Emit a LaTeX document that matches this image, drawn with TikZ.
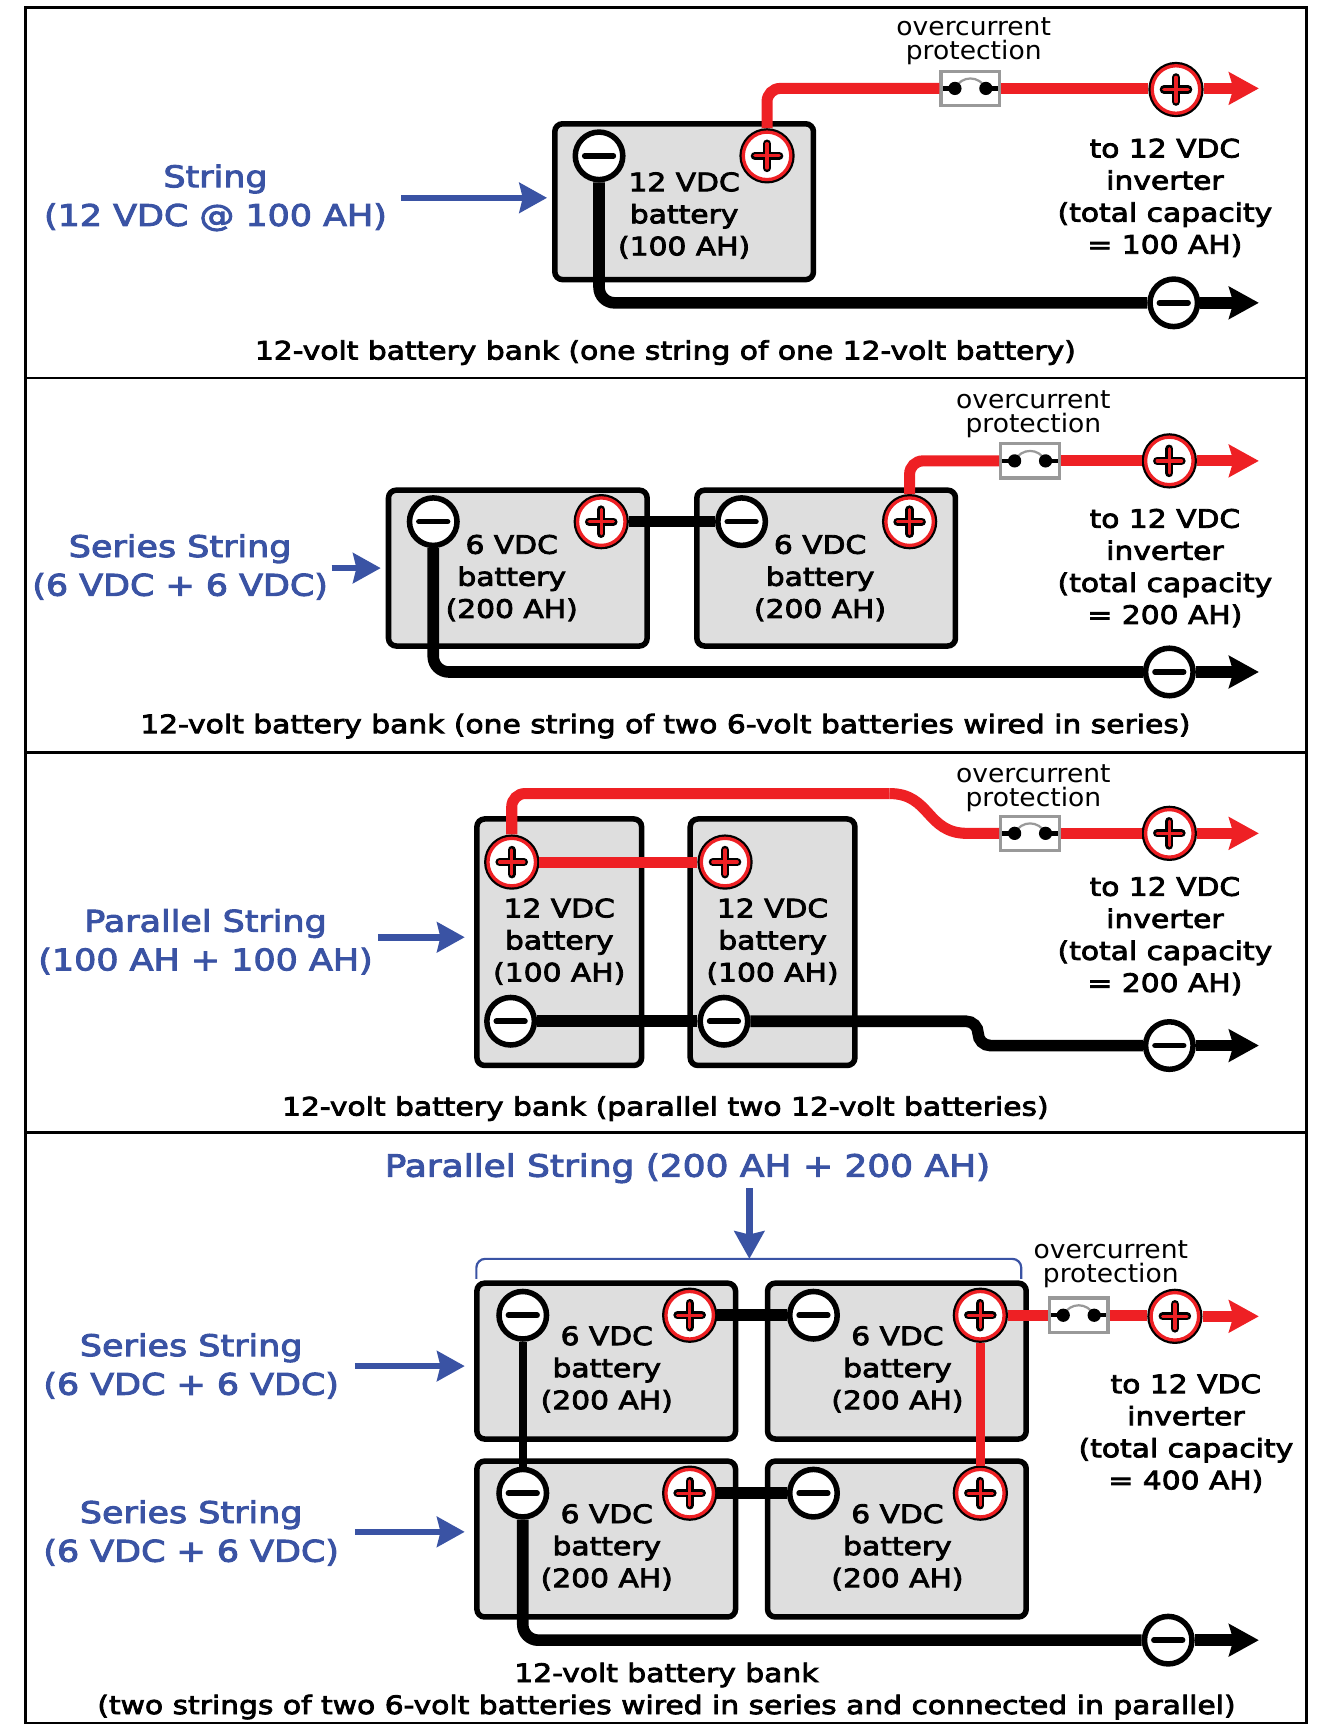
\documentclass[tikz,border=0pt]{standalone}
\usepackage{xcolor}
\usepackage{fontspec}
\setmainfont{DejaVu Sans}
\newfontfamily\medfont[FakeBold=3.2,FakeStretch=1.17]{DejaVu Sans}
\newfontfamily\thinfont[FakeStretch=1.045]{DejaVu Sans}
\usetikzlibrary{arrows.meta}
\definecolor{wirered}{HTML}{EE2024}
\definecolor{labelblue}{HTML}{3A53A4}
\definecolor{battgray}{HTML}{DEDEDE}
\definecolor{fusegray}{HTML}{999999}
\tikzset{
  panel node/.style={draw,line width=2.5pt,minimum width=1159pt,inner sep=0pt},
  batt node/.style={draw,line width=5pt,fill=battgray,rounded corners=7pt,inner sep=0pt,outer sep=0pt},
  wide batt/.style={batt node,minimum width=234pt,minimum height=141pt},
  tall batt/.style={batt node,minimum width=149pt,minimum height=223pt},
  minus node/.style={circle,draw,line width=5pt,fill=white,minimum size=43pt,inner sep=0pt,
    path picture={\draw[black,line width=5pt,line cap=round] ([xshift=-13pt]path picture bounding box.center) -- ([xshift=13pt]path picture bounding box.center);}},
  plus node/.style={circle,draw=wirered,line width=3pt,fill=white,minimum size=43pt,inner sep=0pt,outer sep=3.5pt,
    preaction={draw=black,line width=7pt},
    path picture={
      \draw[black,line width=7.5pt,line cap=round] ([xshift=-11pt]path picture bounding box.center) -- ([xshift=11pt]path picture bounding box.center)
        ([yshift=-11pt]path picture bounding box.center) -- ([yshift=11pt]path picture bounding box.center);
      \draw[wirered,line width=3pt,line cap=round] ([xshift=-11pt]path picture bounding box.center) -- ([xshift=11pt]path picture bounding box.center)
        ([yshift=-11pt]path picture bounding box.center) -- ([yshift=11pt]path picture bounding box.center);}},
  fuse node/.style={draw=fusegray,line width=3pt,fill=white,minimum width=53pt,minimum height=31pt,inner sep=0pt,
    path picture={
      \draw[fusegray,line width=2pt] ([xshift=-14pt]path picture bounding box.center) .. controls ([xshift=-8pt,yshift=12pt]path picture bounding box.center) and ([xshift=8pt,yshift=12pt]path picture bounding box.center) .. ([xshift=14pt]path picture bounding box.center);
      \fill[black] ([xshift=-14pt]path picture bounding box.center) circle (6pt);
      \fill[black] ([xshift=14pt]path picture bounding box.center) circle (6pt);
      \draw[black,line width=4pt] ([xshift=-27pt]path picture bounding box.center) -- ([xshift=-14pt]path picture bounding box.center)
        ([xshift=14pt]path picture bounding box.center) -- ([xshift=27pt]path picture bounding box.center);}},
  batt text/.style={align=center,inner sep=0pt,font=\medfont\fontsize{23}{29}\selectfont},
  blue text/.style={align=center,inner sep=0pt,text=labelblue,font=\medfont\fontsize{27}{35}\selectfont},
  fuse text/.style={align=center,inner sep=0pt,font=\thinfont\fontsize{23}{22}\selectfont},
  red wire/.style={draw=wirered,line width=10pt},
  black wire/.style={draw=black,line width=10.5pt},
  tip wire/.style={-{Stealth[length=27pt,width=29pt,inset=4pt]}},
  blue arrow/.style={draw=labelblue,line width=6pt,-{Stealth[length=25pt,width=27pt,inset=3pt]}}
}
\begin{document}
\begin{tikzpicture}[x=1pt,y=-1pt]
    \useasboundingbox (0,0) rectangle (1198,1568);
    % panels
    \node[panel node,minimum height=335pt] (p1) at (602.5,174.5) {};
    \node[panel node,minimum height=339pt] (p2) at (602.5,511.5) {};
    \node[panel node,minimum height=344pt] (p3) at (602.5,853) {};
    \node[panel node,minimum height=534pt] (p4) at (602.5,1292) {};

    % one 12 volt battery
    \node[wide batt] (b1) at (619,182.5) {};
    \node[batt text] (t1) at (619,195) {12 VDC\\battery\\(100 AH)};
    \node[minus node] (m1) at (542,141) {};
    \node[plus node] (q1) at (694,141) {};
    \node[fuse node] (f1) at (878,80) {};
    \node[fuse text] (o1) at (881,37) {overcurrent\\protection};
    \node[plus node] (qo1) at (1064,81) {};
    \node[minus node] (mo1) at (1062,274) {};
    \coordinate (r1) at (1139,80);
    \coordinate (k1) at (1139,274);
    \node[batt text] (i1) at (1054,179) {to 12 VDC\\inverter\\(total capacity\\= 100 AH)};
    \node[blue text] (s1) at (195,179) {String\\(12 VDC @ 100 AH)};
    \coordinate (a1) at (363,179);
    \node[batt text] (c1) at (602,319) {12-volt battery bank (one string of one 12-volt battery)};

    \draw[red wire,rounded corners=12pt] (q1.north) |- (f1.west);
    \draw[red wire] (f1.east) -- (f1.east -| qo1.west);
    \draw[red wire,tip wire] (f1.east -| qo1.east) -- (r1);
    \draw[black wire,rounded corners=14pt] (m1.south) |- (mo1.west);
    \draw[black wire,tip wire] (mo1.east) -- (k1);
    \draw[blue arrow,shorten >=7pt] (a1) -- (a1 -| b1.west);

    % two 6 volt batteries in series
    \node[wide batt] (b2) at (468.5,514) {};
    \node[wide batt] (b3) at (747.5,514) {};
    \node[batt text] (t2) at (463,523) {6 VDC\\battery\\(200 AH)};
    \node[batt text] (t3) at (742,523) {6 VDC\\battery\\(200 AH)};
    \node[minus node] (m2) at (392,472) {};
    \node[plus node] (q2) at (544,472) {};
    \node[minus node] (m3) at (671,472) {};
    \node[plus node] (q3) at (823,472) {};
    \node[fuse node] (f2) at (932,417) {};
    \node[fuse text] (o2) at (935,375) {overcurrent\\protection};
    \node[plus node] (qo2) at (1058,417) {};
    \node[minus node] (mo2) at (1058,608) {};
    \coordinate (r2) at (1139,417);
    \coordinate (k2) at (1139,608);
    \node[batt text] (i2) at (1054,514) {to 12 VDC\\inverter\\(total capacity\\= 200 AH)};
    \node[blue text] (s2) at (163,513) {Series String\\(6 VDC + 6 VDC)};
    \coordinate (a2) at (300,514);
    \node[batt text] (c2) at (602,657) {12-volt battery bank (one string of two 6-volt batteries wired in series)};

    \draw[black wire] (q2.east) -- (m3.west);
    \draw[red wire,rounded corners=12pt] (q3.north) |- (f2.west);
    \draw[red wire] (f2.east) -- (qo2.west);
    \draw[red wire,tip wire] (qo2.east) -- (r2);
    \draw[black wire,rounded corners=14pt] (m2.south) |- (mo2.west);
    \draw[black wire,tip wire] (mo2.east) -- (k2);
    \draw[blue arrow,shorten >=7pt] (a2) -- (a2 -| b2.west);

    % two 12 volt batteries in parallel
    \node[tall batt] (b4) at (506,852.5) {};
    \node[tall batt] (b5) at (699,852.5) {};
    \node[batt text] (t4) at (506,852) {12 VDC\\battery\\(100 AH)};
    \node[batt text] (t5) at (699,852) {12 VDC\\battery\\(100 AH)};
    \node[plus node] (q4) at (463,780) {};
    \node[plus node] (q5) at (656,780) {};
    \node[minus node] (m4) at (462,924) {};
    \node[minus node] (m5) at (655,924) {};
    \node[fuse node] (f3) at (932,754) {};
    \node[fuse text] (o3) at (935,713) {overcurrent\\protection};
    \node[plus node] (qo3) at (1058,754) {};
    \node[minus node] (mo3) at (1058,946) {};
    \coordinate (r3) at (1139,754);
    \coordinate (k3) at (1139,946);
    \node[batt text] (i3) at (1054,847) {to 12 VDC\\inverter\\(total capacity\\= 200 AH)};
    \node[blue text] (s3) at (186,852) {Parallel String\\(100 AH + 100 AH)};
    \coordinate (a3) at (342,848);
    \node[batt text] (c3) at (602,1003) {12-volt battery bank (parallel two 12-volt batteries)};
    \coordinate (u3) at (805,718);
    \coordinate (v3) at (875,754);

    \draw[red wire] (q4.east) -- (q5.west);
    \draw[red wire,rounded corners=12pt] (q4.north) -- (q4 |- u3) -- (u3);
    \draw[red wire] (u3) .. controls (842,718) and (838,754) .. (v3) -- (f3.west);
    \draw[red wire] (f3.east) -- (qo3.west);
    \draw[red wire,tip wire] (qo3.east) -- (r3);
    \draw[black wire] (m4.east) -- (m5.west);
    \draw[black wire,rounded corners=11pt] (m5.east) -- (885,924) -- (885,946) -- (mo3.west);
    \draw[black wire,tip wire] (mo3.east) -- (k3);
    \draw[blue arrow,shorten >=11pt] (a3) -- (a3 -| b4.west);

    % four 6 volt batteries, series and parallel
    \node[wide batt] (b6) at (548.5,1231.5) {};
    \node[wide batt] (b7) at (811.5,1231.5) {};
    \node[wide batt] (b8) at (548.5,1392.5) {};
    \node[wide batt] (b9) at (811.5,1392.5) {};
    \node[batt text] (t6) at (549,1239) {6 VDC\\battery\\(200 AH)};
    \node[batt text] (t7) at (812,1239) {6 VDC\\battery\\(200 AH)};
    \node[batt text] (t8) at (549,1400) {6 VDC\\battery\\(200 AH)};
    \node[batt text] (t9) at (812,1400) {6 VDC\\battery\\(200 AH)};
    \node[minus node] (m6) at (473,1190) {};
    \node[plus node] (q6) at (624,1190) {};
    \node[minus node] (m7) at (736,1190) {};
    \node[plus node] (q7) at (887,1190) {};
    \node[minus node] (m8) at (473,1351) {};
    \node[plus node] (q8) at (624,1351) {};
    \node[minus node] (m9) at (736,1351) {};
    \node[plus node] (q9) at (887,1351) {};
    \node[fuse node] (f4) at (976,1190) {};
    \node[fuse text] (o4) at (1005,1144) {overcurrent\\protection};
    \node[plus node] (qo4) at (1063,1191) {};
    \node[minus node] (mo4) at (1057,1484) {};
    \coordinate (r4) at (1139,1191);
    \coordinate (k4) at (1139,1484);
    \node[batt text] (i4) at (1073,1297) {to 12 VDC\\inverter\\(total capacity\\= 400 AH)};
    \node[blue text] (s6) at (173,1236) {Series String\\(6 VDC + 6 VDC)};
    \node[blue text] (s7) at (173,1387) {Series String\\(6 VDC + 6 VDC)};
    \node[blue text,font=\medfont\fontsize{27.8}{35}\selectfont] (s8) at (622,1057) {Parallel String (200 AH + 200 AH)};
    \coordinate (a6) at (321,1236);
    \coordinate (a7) at (321,1386);
    \coordinate (a8) at (678,1075);
    \coordinate (g1) at (431,1157);
    \coordinate (g2) at (431,1139);
    \coordinate (g3) at (924,1139);
    \coordinate (g4) at (924,1157);
    \node[batt text] (c4) at (603,1530) {12-volt battery bank\\(two strings of two 6-volt batteries wired in series and connected in parallel)};

    \draw[black wire] (q6.east) -- (m7.west);
    \draw[black wire] (q8.east) -- (m9.west);
    \draw[black wire,line width=7pt] (m6.south) -- (m8.north);
    \draw[red wire,line width=8pt] (q7.south) -- (q9.north);
    \draw[red wire] (q7.east) -- (f4.west);
    \draw[red wire] (f4.east) -- (f4.east -| qo4.west);
    \draw[red wire,tip wire] (qo4.east) -- (r4);
    \draw[black wire,rounded corners=14pt] (m8.south) |- (mo4.west);
    \draw[black wire,tip wire] (mo4.east) -- (k4);
    \draw[blue arrow,shorten >=11pt] (a6) -- (a6 -| b6.west);
    \draw[blue arrow,shorten >=11pt] (a7) -- (a7 -| b8.west);
    \draw[blue arrow] (a8) -- (a8 |- g2);
    \draw[labelblue,line width=2pt,rounded corners=8pt] (g1) -- (g2) -- (g3) -- (g4);
  \end{tikzpicture}
\end{document}
